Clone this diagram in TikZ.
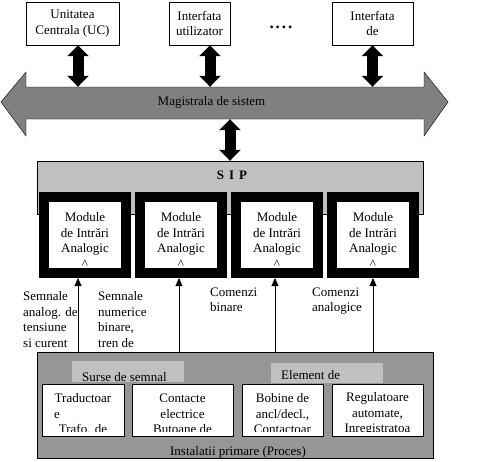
\documentclass[tikz,border=0pt]{standalone}
\usepackage{fontspec}
\setmainfont{Liberation Serif}
\usetikzlibrary{arrows.meta,positioning,calc}

\definecolor{busgray}{RGB}{128,128,128}
\definecolor{sipgray}{RGB}{192,192,192}
\definecolor{procgray}{RGB}{150,150,150}

\begin{document}
\begin{tikzpicture}[x=1pt, y=-1pt,
    every node/.style={font=\fontsize{13}{15.5}\selectfont, inner sep=0pt},
    topbox/.style={rectangle, draw=black, fill=white, minimum height=43pt, align=center},
    busbody/.style={minimum width=398pt, minimum height=32pt},
    buslink/.style={line width=11pt, {Triangle[width=21pt,length=11pt]}-{Triangle[width=21pt,length=11pt]}},
    sipbox/.style={rectangle, draw=black, fill=sipgray, minimum width=386pt, minimum height=53pt},
    modbox/.style={rectangle, draw=black, line width=10pt, fill=white, minimum width=82pt, minimum height=76pt, outer sep=5pt},
    modtext/.style={anchor=north, align=center},
    sig/.style={-{Triangle[width=7pt,length=8pt]}, line width=0.8pt},
    sigtext/.style={anchor=north west, align=left},
    procbox/.style={rectangle, draw=black, fill=procgray, minimum width=396pt, minimum height=106pt},
    srchead/.style={rectangle, fill=sipgray, minimum width=112pt},
    srcbox/.style={rectangle, draw=black, line width=0.8pt, fill=white, minimum height=52pt},
    cliptext/.style args={#1:#2}{path picture={
        \clip (path picture bounding box.north west) rectangle ([yshift=5pt]path picture bounding box.south east);
        \node[anchor=north, align=center] (#1) at ([yshift=-3.5pt]path picture bounding box.north) {#2};}}
]
    \useasboundingbox (0,0) rectangle (477,461);

    % Top row
    \node[topbox, minimum width=93pt] (uc) at (72.5,23.5) {Unitatea\\Centrala (UC)};
    \node[topbox, minimum width=61pt] (iu) at (199.5,23.5) {Interfata\\utilizator};
    \node[font=\fontsize{17}{17}\selectfont] (dots) at (281,27) {\textbf{.\hspace{2pt}.\hspace{2pt}.\hspace{2pt}.}};
    \node[topbox, minimum width=81pt] (ip) at (372.5,23.5) {Interfata\\de};

    % Magistrala
    \draw[fill=busgray] (1,102) -- (26,72) -- (26,87) -- (424,87) -- (424,72) -- (448,102)
        -- (424,136) -- (424,119) -- (26,119) -- (26,136) -- cycle;
    \node[busbody] (bus) at (225,103) {};
    \node[anchor=base] (buslabel) at (211.5,105.5) {Magistrala de sistem};

    \draw[buslink] ([xshift=5.5pt]uc.south) -- ([xshift=5.5pt]uc.south |- bus.north);
    \draw[buslink] ([xshift=10.5pt]iu.south) -- ([xshift=10.5pt]iu.south |- bus.north);
    \draw[buslink] (ip.south) -- (ip.south |- bus.north);

    % SIP
    \node[sipbox] (sip) at (230,187.5) {};
    \node[anchor=base] (siplabel) at (232,179) {\textbf{S\hspace{5pt}I\hspace{5pt}P}};
    \draw[buslink] (sip.north |- bus.south) -- (sip.north);

    % Module
    \node[modbox] (m1) at (85,235) {};
    \node[modbox, right=4pt of m1] (m2) {};
    \node[modbox, right=4pt of m2] (m3) {};
    \node[modbox, right=4pt of m3] (m4) {};
    \node[modtext] (t1) at ([yshift=22.5pt]m1.center) {Module\\de Intrări\\Analogic\\\textasciicircum};
    \node[modtext] (t2) at ([yshift=22.5pt]m2.center) {Module\\de Intrări\\Analogic\\\textasciicircum};
    \node[modtext] (t3) at ([yshift=22.5pt]m3.center) {Module\\de Intrări\\Analogic\\\textasciicircum};
    \node[modtext] (t4) at ([yshift=22.5pt]m4.center) {Module\\de Intrări\\Analogic\\\textasciicircum};

    % Proces
    \node[procbox] (proc) at (235,405) {};
    \node[anchor=base] (proclabel) at (238,455) {Instalatii primare (Proces)};
    \node[srchead, minimum height=21pt] (src) at (128,371.5) {};
    \node[anchor=base west] (srclabel) at (82,381) {Surse de semnal};
    \node[srchead, minimum height=20pt] (elem) at (327,373) {};
    \node[anchor=base west] (elemlabel) at (281,379.5) {Element de};

    \node[srcbox, minimum width=82pt, cliptext={b1t:Traductoar\\\makebox[58pt][l]{e}\\Trafo. de}] (b1) at (83,410) {};
    \node[srcbox, minimum width=101pt, cliptext={b2t:Contacte\\electrice\\Butoane de}] (b2) at (182.5,410) {};
    \node[srcbox, minimum width=81pt, cliptext={b3t:Bobine de\\ancl/decl.,\\Contactoar}] (b3) at (282.5,410) {};
    \node[srcbox, minimum width=91pt, cliptext={b4t:Regulatoare\\automate,\\Inregistratoa}] (b4) at (377.5,410) {};

    % Semnale
    \draw[sig] ([xshift=-7pt]m1.south |- proc.north) -- ([xshift=-7pt]m1.south);
    \draw[sig] ([xshift=-2pt]m2.south |- proc.north) -- ([xshift=-2pt]m2.south);
    \draw[sig] ([xshift=-2pt]m3.south |- proc.north) -- ([xshift=-2pt]m3.south);
    \draw[sig] (m4.south |- proc.north) -- (m4.south);

    \node[sigtext] (s1) at (23,291.5) {Semnale\\analog. de\\tensiune\\si curent};
    \node[sigtext] (s2) at (98,291.5) {Semnale\\numerice\\binare,\\tren de};
    \node[sigtext] (s3) at (210,287.5) {Comenzi\\binare};
    \node[sigtext] (s4) at (312,287.5) {Comenzi\\analogice};
\end{tikzpicture}
\end{document}
